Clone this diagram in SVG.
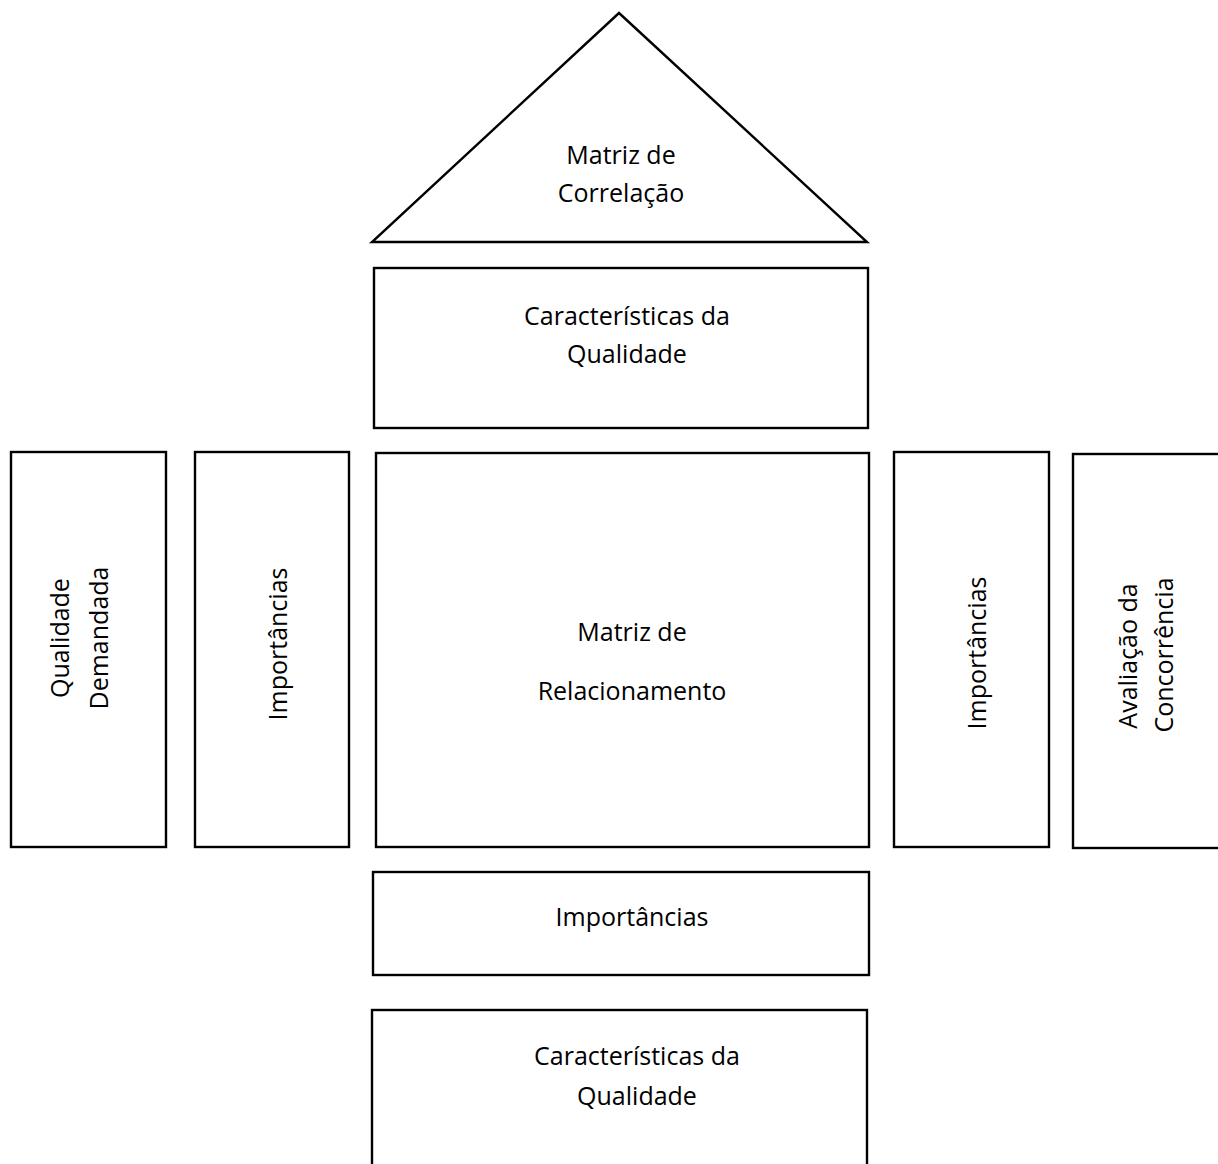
<svg xmlns="http://www.w3.org/2000/svg" width="1218" height="1164" viewBox="0 0 1218 1164">
<style>
.s{fill:#fff;stroke:#000;stroke-width:2.4}
.t{font-family:"Open Sans","Liberation Sans",sans-serif;font-size:25px;fill:#000;text-anchor:middle}
</style>
<rect width="1218" height="1164" fill="#fff"/>
<g id="correlacao">
<polygon class="s" points="619,13 372,242 867,242"/>
<text class="t" x="621" y="164">Matriz de</text>
<text class="t" x="621" y="202">Correlação</text>
</g>
<g id="caracteristicas-top">
<rect class="s" x="374" y="268" width="494" height="160"/>
<text class="t" x="627" y="325">Características da</text>
<text class="t" x="627" y="363">Qualidade</text>
</g>
<g id="qualidade-demandada">
<rect class="s" x="11" y="452" width="155" height="395"/>
<text class="t" transform="translate(69,638) rotate(-90)">Qualidade</text>
<text class="t" transform="translate(108,638) rotate(-90)">Demandada</text>
</g>
<g id="importancias-left">
<rect class="s" x="195" y="452" width="154" height="395"/>
<text class="t" transform="translate(287,644) rotate(-90)">Importâncias</text>
</g>
<g id="relacionamento">
<rect class="s" x="376" y="453" width="493" height="394"/>
<text class="t" x="632" y="641">Matriz de</text>
<text class="t" x="632" y="700">Relacionamento</text>
</g>
<g id="importancias-right">
<rect class="s" x="894" y="452" width="155" height="395"/>
<text class="t" transform="translate(986,653) rotate(-90)">Importâncias</text>
</g>
<g id="avaliacao">
<rect class="s" x="1073" y="454" width="160" height="394"/>
<text class="t" transform="translate(1137,656) rotate(-90)">Avaliação da</text>
<text class="t" transform="translate(1173,655) rotate(-90)">Concorrência</text>
</g>
<g id="importancias-bottom">
<rect class="s" x="373" y="872" width="496" height="103"/>
<text class="t" x="632" y="926">Importâncias</text>
</g>
<g id="caracteristicas-bottom">
<rect class="s" x="372" y="1010" width="495" height="170"/>
<text class="t" x="637" y="1065">Características da</text>
<text class="t" x="637" y="1105">Qualidade</text>
</g>
<g id="connectors"/>
</svg>
